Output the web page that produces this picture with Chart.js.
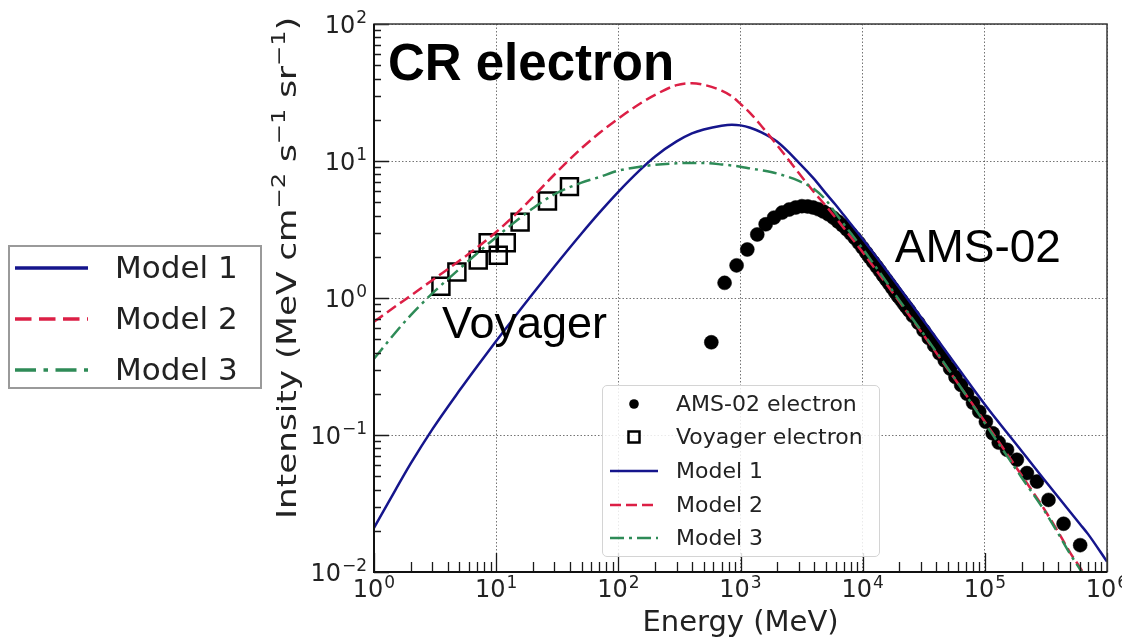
<!DOCTYPE html>
<html><head><meta charset="utf-8">
<script src="https://cdn.jsdelivr.net/npm/chart.js@4.4.1/dist/chart.umd.min.js"></script>
<style>
html,body{margin:0;padding:0;background:#fff;}
#wrap{position:relative;width:1122px;height:638px;overflow:hidden;}
#c{position:absolute;left:0;top:0;}
.legend{position:absolute;font-family:'DejaVu Sans',sans-serif;color:#222;box-sizing:border-box;background:rgba(255,255,255,0.85);}
.legend .row{position:absolute;left:0;right:0;white-space:nowrap;}
.legend svg{position:absolute;}
.legend span{position:absolute;}
#legIn{left:602px;top:385px;width:278px;height:172px;border:1px solid #d4d4d4;border-radius:5px;font-size:22px;}
#legOut{left:8px;top:245px;width:254px;height:144px;border:2px solid #9a9a9a;font-size:31px;}
</style></head>
<body><div id="wrap"><canvas id="c" width="1122" height="638"></canvas>
<div id="legIn" class="legend"></div><div id="legOut" class="legend"></div></div>
<script>
// ---------- data ----------
const amsEnergy = [577, 741, 929, 1137, 1372, 1607, 1880, 2190, 2500, 2830, 3180, 3550, 3930, 4330, 4770, 5250, 5750, 6270, 6820, 7400, 8000, 8630, 9290, 9970, 10700, 11400, 12200, 13000, 13800, 14700, 15600, 16500, 17500, 18500, 19500, 20600, 21700, 22800, 24000, 25800, 28500, 31500, 34800, 38500, 42500, 47000, 52000, 57500, 64000, 71500, 80000, 90000, 102000, 116000, 130000, 152000, 183000, 221000, 267000, 332000, 441000, 603000];
const amsFlux = [0.475, 1.29, 1.73, 2.26, 2.91, 3.45, 3.86, 4.2, 4.42, 4.58, 4.68, 4.66, 4.58, 4.45, 4.28, 4.08, 3.86, 3.62, 3.4, 3.17, 2.95, 2.74, 2.53, 2.33, 2.14, 1.98, 1.83, 1.70, 1.58, 1.46, 1.36, 1.27, 1.18, 1.10, 1.03, 0.97, 0.91, 0.86, 0.81, 0.74, 0.66, 0.58, 0.51, 0.45, 0.395, 0.35, 0.305, 0.265, 0.232, 0.2, 0.172, 0.148, 0.125, 0.103, 0.088, 0.078, 0.066, 0.0527, 0.0457, 0.0336, 0.0225, 0.0157];
const vgrEnergy = [3.53, 4.77, 7.13, 8.6, 10.4, 12.1, 15.7, 26.3, 39.8];
const vgrFlux = [1.22, 1.55, 1.89, 2.53, 2.05, 2.53, 3.58, 5.1, 6.5];
const modelEnergy = [1, 1.5, 2, 3, 5, 7, 10, 15, 20, 30, 50, 70, 100, 150, 200, 300, 400, 500, 700, 850, 1000, 1200, 1500, 2000, 3000, 4000, 5000, 6000, 7000, 10000, 20000, 50000, 100000, 200000, 300000, 400000, 500000, 600000, 700000, 1000000];
const model1 = [0.021, 0.0398, 0.062, 0.110, 0.211, 0.318, 0.485, 0.776, 1.08, 1.70, 2.96, 4.20, 5.96, 8.58, 10.8, 13.9, 15.9, 17.0, 18.1, 18.4, 18.2, 17.5, 16.1, 13.8, 9.75, 7.4, 5.8, 4.79, 4.03, 2.70, 1.19, 0.389, 0.167, 0.0764, 0.0484, 0.0351, 0.0274, 0.0224, 0.0189, 0.0119];
const model2 = [0.67, 0.87, 1.04, 1.35, 1.87, 2.34, 3.03, 4.22, 5.47, 7.97, 12.4, 16.0, 20.4, 26.2, 30.4, 35.8, 37.0, 36.0, 32.6, 29.6, 26.1, 22.4, 17.8, 13.0, 8.17, 5.92, 4.70, 3.86, 3.25, 2.16, 0.938, 0.301, 0.125, 0.0508, 0.0296, 0.0195, 0.0138, 0.0108, 0.0086, 0.0045];
const model3 = [0.36, 0.56, 0.75, 1.08, 1.63, 2.12, 2.78, 3.72, 4.52, 5.72, 6.95, 7.64, 8.5, 9.08, 9.38, 9.62, 9.68, 9.66, 9.44, 9.27, 9.08, 8.83, 8.55, 8.09, 7.16, 6.24, 5.19, 4.17, 3.47, 2.29, 0.96, 0.305, 0.122, 0.049, 0.029, 0.019, 0.0135, 0.0105, 0.0083, 0.0043];
const xMajor = [1, 10, 100, 1000, 10000, 100000, 1000000];
const xTickLabels = ['10^0', '10^1', '10^2', '10^3', '10^4', '10^5', '10^6'];
const yMajor = [0.01, 0.1, 1, 10, 100];
const yTickLabels = ['10^-2', '10^-1', '10^0', '10^1', '10^2'];
const xTitle = 'Energy (MeV)';
const yTitleParts = [['Intensity (MeV cm', 0], ['−2', 1], [' s', 0], ['−1', 1], [' sr', 0], ['−1', 1], [')', 0]];
const seriesNames = ['AMS-02 electron', 'Voyager electron', 'Model 1', 'Model 2', 'Model 3'];
const annotations = [
  {text: 'CR electron', x: 1.30, y: 39.3, font: 'bold 51px "Liberation Sans", Arial, sans-serif'},
  {text: 'Voyager', x: 3.6, y: 0.51, font: '45px "Liberation Sans", Arial, sans-serif'},
  {text: 'AMS-02', x: 18300, y: 1.84, font: '46px "Liberation Sans", Arial, sans-serif'}
];

// ---------- helpers ----------
const xy = (xs, ys) => xs.map((x, i) => ({x, y: ys[i]}));
const isMajor = v => Math.abs(Math.log10(v) - Math.round(Math.log10(v))) < 1e-6;
const allTicks = majors => {
  const out = [];
  majors.forEach((m, i) => {
    if (i === majors.length - 1) { out.push(m); return; }
    for (let k = 1; k <= 9; k++) out.push(m * k);
  });
  return out;
};
const BLUE = '#15158c', RED = '#dc1f45', GREEN = '#2e8b57';
const TXT = '#222';
const FONT = "'DejaVu Sans', sans-serif";

function drawPow(ctx, label, x, baseline, align) {
  const parts = label.split('^');
  const base = parts[0], exp = parts[1].replace('-', '−');
  ctx.font = `24px ${FONT}`; const wb = ctx.measureText(base).width;
  ctx.font = `17px ${FONT}`; const we = ctx.measureText(exp).width;
  const total = wb + 1 + we;
  const x0 = align === 'right' ? x - total : x - total / 2;
  ctx.textAlign = 'left'; ctx.textBaseline = 'alphabetic';
  ctx.font = `24px ${FONT}`; ctx.fillText(base, x0, baseline);
  ctx.font = `17px ${FONT}`; ctx.fillText(exp, x0 + wb + 1, baseline - 9.5);
}

const frameTicks = {
  id: 'frameTicks',
  afterDatasetsDraw(chart) {
    const {ctx, chartArea: a, scales: {x, y}} = chart;
    ctx.save();
    ctx.strokeStyle = '#1a1a1a';
    ctx.lineWidth = 1.3;
    ctx.beginPath();
    x.ticks.forEach(t => {
      const px = Math.round(x.getPixelForValue(t.value)) + 0.5;
      const L = isMajor(t.value) ? 19 : 10;
      ctx.moveTo(px, a.bottom); ctx.lineTo(px, a.bottom - L);
    });
    y.ticks.forEach(t => {
      const py = Math.round(y.getPixelForValue(t.value)) + 0.5;
      const L = isMajor(t.value) ? 15 : 7;
      ctx.moveTo(a.left, py); ctx.lineTo(a.left + L, py);
    });
    ctx.stroke();
    ctx.strokeStyle = '#3a3a3a'; ctx.lineWidth = 1.5;
    ctx.strokeRect(a.left, a.top, a.right - a.left, a.bottom - a.top);
    ctx.strokeStyle = '#111'; ctx.lineWidth = 2;
    ctx.beginPath();
    ctx.moveTo(a.left, a.top); ctx.lineTo(a.left, a.bottom); ctx.lineTo(a.right, a.bottom);
    ctx.stroke();
    ctx.restore();
  },
  afterDraw(chart) {
    const {ctx, chartArea: a, scales: {x, y}} = chart;
    ctx.save();
    ctx.fillStyle = TXT;
    // tick labels from the scales
    xMajor.forEach((v, i) => drawPow(ctx, xTickLabels[i], x.getPixelForValue(v), a.bottom + 25, 'center'));
    yMajor.forEach((v, i) => drawPow(ctx, yTickLabels[i], a.left - 7, y.getPixelForValue(v) + 8.75, 'right'));
    // y title with real superscripts
    const main = 27, sup = 19;
    let w = 0;
    yTitleParts.forEach(([t, s]) => { ctx.font = `${s ? sup : main}px ${FONT}`; w += ctx.measureText(t).width; });
    const yStart = a.bottom - 53, yEnd = a.top - 7;
    const k = (yStart - yEnd) / w;
    ctx.translate(286, yStart);
    ctx.rotate(-Math.PI / 2);
    ctx.scale(k, 1);
    ctx.textAlign = 'left'; ctx.textBaseline = 'alphabetic';
    let cx = 0;
    yTitleParts.forEach(([t, s]) => {
      ctx.font = `${s ? sup : main}px ${FONT}`;
      ctx.fillText(t, cx, s ? 10 - 11 : 10);
      cx += ctx.measureText(t).width;
    });
    ctx.restore();
    // annotations
    ctx.save();
    ctx.fillStyle = '#000';
    ctx.textBaseline = 'alphabetic';
    ctx.textAlign = 'left';
    annotations.forEach(an => {
      ctx.font = an.font;
      ctx.fillText(an.text, x.getPixelForValue(an.x), y.getPixelForValue(an.y));
    });
    ctx.restore();
  }
};

const gridColor = c => (c.tick && isMajor(c.tick.value)) ? 'rgba(70,70,70,0.75)' : 'rgba(0,0,0,0)';

const chart = new Chart(document.getElementById('c'), {
  type: 'scatter',
  data: {
    datasets: [
      {label: seriesNames[2], data: xy(modelEnergy, model1), showLine: true, borderColor: BLUE, backgroundColor: BLUE,
       borderWidth: 2.5, pointRadius: 0, cubicInterpolationMode: 'monotone', order: 2},
      {label: seriesNames[3], data: xy(modelEnergy, model2), showLine: true, borderColor: RED, backgroundColor: RED,
       borderWidth: 2.5, borderDash: [11, 5], pointRadius: 0, cubicInterpolationMode: 'monotone', order: 1},
      {label: seriesNames[4], data: xy(modelEnergy, model3), showLine: true, borderColor: GREEN, backgroundColor: GREEN,
       borderWidth: 2.5, borderDash: [14, 5, 3, 5], pointRadius: 0, cubicInterpolationMode: 'monotone', order: 0},
      {label: seriesNames[0], data: xy(amsEnergy, amsFlux), pointRadius: 7, pointBackgroundColor: '#000',
       pointBorderColor: '#000', pointBorderWidth: 0.5, order: 4},
      {label: seriesNames[1], data: xy(vgrEnergy, vgrFlux), pointStyle: 'rect', pointRadius: 12,
       pointBackgroundColor: 'rgba(0,0,0,0)', pointBorderColor: '#000', pointBorderWidth: 2.5, order: 3}
    ]
  },
  options: {
    responsive: false, animation: false, devicePixelRatio: 1,
    layout: {padding: {left: 254, top: 24, right: 15, bottom: 0}},
    plugins: {legend: {display: false}, tooltip: {enabled: false}},
    scales: {
      x: {
        type: 'logarithmic', position: 'bottom', min: 1, max: 1000000,
        afterBuildTicks: s => { s.ticks = allTicks(xMajor).map(v => ({value: v})); },
        afterFit: s => { s.height = 66; s.paddingLeft = 0; s.paddingRight = 0; },
        ticks: {display: false, autoSkip: false, maxRotation: 0, minRotation: 0},
        grid: {drawTicks: false, color: gridColor, lineWidth: 1},
        border: {display: false, dash: [1.5, 2]},
        title: {display: true, text: xTitle, color: TXT, font: {family: FONT, size: 29}, padding: {top: 0, bottom: -3}}
      },
      y: {
        type: 'logarithmic', position: 'left', min: 0.01, max: 100,
        afterBuildTicks: s => { s.ticks = allTicks(yMajor).map(v => ({value: v})); },
        afterFit: s => { s.width = 120; s.paddingTop = 0; s.paddingBottom = 0; },
        ticks: {display: false, autoSkip: false},
        grid: {drawTicks: false, color: gridColor, lineWidth: 1},
        border: {display: false, dash: [1.5, 2]},
        title: {display: false}
      }
    }
  },
  plugins: [frameTicks]
});

// ---------- HTML legends built from the datasets ----------
function sample(ds, w, h, lw, k) {
  if (ds.showLine) {
    const dash = (ds.borderDash || []).map(d => d * k).join(',');
    return `<svg width="${w}" height="${h}" style="left:0;top:0"><line x1="0" y1="${h/2}" x2="${w}" y2="${h/2}" stroke="${ds.borderColor}" stroke-width="${lw}"${dash ? ` stroke-dasharray="${dash}"` : ''}/></svg>`;
  }
  if (ds.pointStyle === 'rect') {
    const s = 11;
    return `<svg width="${w}" height="${h}" style="left:0;top:0"><rect x="${w/2 - s/2}" y="${h/2 - s/2}" width="${s}" height="${s}" fill="none" stroke="#000" stroke-width="2.5"/></svg>`;
  }
  return `<svg width="${w}" height="${h}" style="left:0;top:0"><circle cx="${w/2}" cy="${h/2}" r="4.8" fill="#000"/></svg>`;
}
function buildLegend(el, names, opt) {
  const dsets = chart.data.datasets;
  el.innerHTML = names.map((n, i) => {
    const ds = dsets.find(d => d.label === n);
    const c = opt.first + i * opt.step;
    return `<div class="row" style="top:${c - opt.rowH/2}px;height:${opt.rowH}px">` +
      `<div style="position:absolute;left:${opt.sx}px;top:${opt.rowH/2 - 10}px;width:${opt.sw}px;height:20px">${sample(ds, opt.sw, 20, opt.lw, opt.k)}</div>` +
      `<span style="left:${opt.tx}px;top:50%;transform:translateY(-52%)">${n}</span></div>`;
  }).join('');
}
buildLegend(document.getElementById('legIn'), seriesNames,
  {first: 17.5, step: 33.7, rowH: 30, sx: 7, sw: 48, tx: 73, lw: 2.5, k: 1});
buildLegend(document.getElementById('legOut'), seriesNames.slice(2),
  {first: 21, step: 51, rowH: 44, sx: 5, sw: 73, tx: 105, lw: 3.5, k: 1.5});
</script></body></html>
